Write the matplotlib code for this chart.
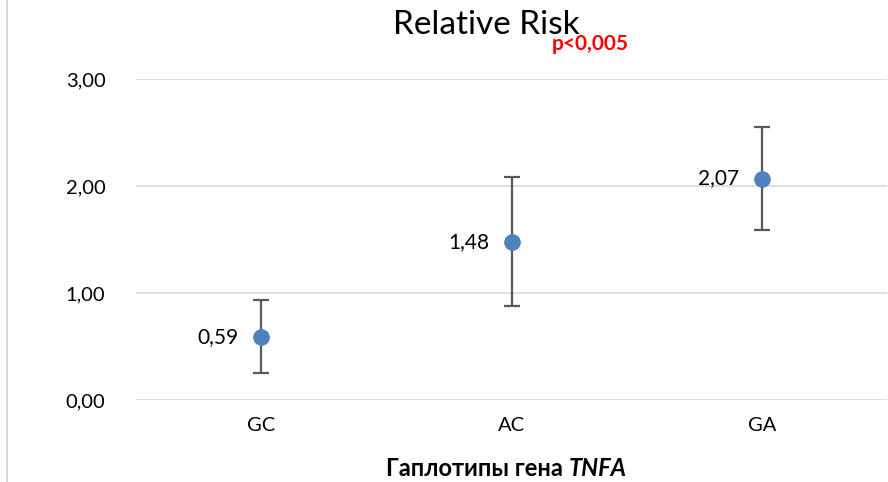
import matplotlib.pyplot as plt
from matplotlib.lines import Line2D

haplotypes = ["GC", "AC", "GA"]
rr = [0.59, 1.48, 2.07]
ci_low = [0.25, 0.88, 1.59]
ci_high = [0.93, 2.08, 2.55]
yticks = [0, 1, 2, 3]

plt.rcParams['font.family'] = ['Lato', 'DejaVu Sans']

fig = plt.figure(figsize=(8.88, 4.82), dpi=100)
ax = fig.add_axes([136 / 888, 1 - 400 / 482, 751 / 888, 321 / 482])

x = list(range(len(haplotypes)))
err_lo = [v - lo for v, lo in zip(rr, ci_low)]
err_hi = [hi - v for v, hi in zip(rr, ci_high)]
ax.errorbar(x, rr, yerr=[err_lo, err_hi], fmt='o', color='#4F81BD',
            markersize=11, ecolor='#595959', elinewidth=1.6, capsize=6,
            capthick=1.6, zorder=3)

for xi, v in zip(x, rr):
    ax.annotate(f"{v:.2f}".replace('.', ','), (xi, v), xytext=(-16, 0),
                textcoords='offset points', ha='right', va='center',
                fontsize=15, color='#000000')

ax.set_xlim(-0.5, 2.5)
ax.set_ylim(0, 3)
ax.set_yticks(yticks)
ax.set_yticklabels([f"{t:.2f}".replace('.', ',') for t in yticks], fontsize=14.5)
ax.set_xticks(x)
ax.set_xticklabels(haplotypes, fontsize=14.5)
ax.tick_params(length=0, pad=12)
ax.tick_params(axis='y', pad=22)
ax.grid(axis='y', color='#D9D9D9', linewidth=1.2)
ax.set_axisbelow(True)
for s in ax.spines.values():
    s.set_visible(False)

fig.text(486 / 888, 1 - 25 / 482, "Relative Risk", ha='center', va='center',
         fontsize=24)
fig.text(590 / 888, 1 - 44 / 482, "p<0,005", ha='center', va='center',
         fontsize=15, fontweight='bold', color='#FF0000')

t1 = fig.text(386 / 888, 1 - 468 / 482, "Гаплотипы гена ", ha='left',
              va='center', fontsize=17, fontweight='bold')
ax.annotate("TNFA", xy=(1, 0), xycoords=t1, ha='left', va='bottom',
            fontsize=17, fontweight='bold', fontstyle='italic')

fig.add_artist(Line2D([7 / 888, 7 / 888], [0, 1], color='#D9D9D9',
                      linewidth=1.5, transform=fig.transFigure))

fig.savefig("out.png", dpi=100)
